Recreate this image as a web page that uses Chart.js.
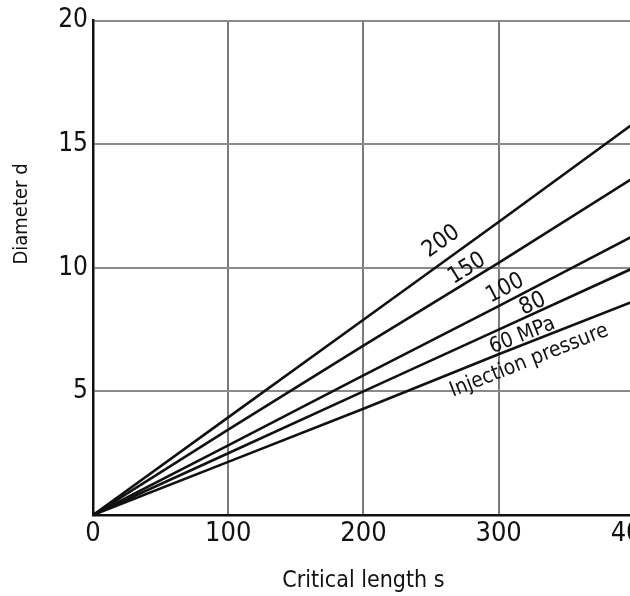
<!DOCTYPE html>
<html>
<head>
<meta charset="utf-8">
<script src="https://cdn.jsdelivr.net/npm/chart.js@4.4.1/dist/chart.umd.min.js"></script>
<style>
  html, body { margin: 0; padding: 0; background: #fff; overflow: hidden; width: 630px; height: 596px; }
  #wrap { position: absolute; left: 0; top: 0; width: 660px; height: 596px; }
</style>
</head>
<body>
<div id="wrap"><canvas id="c" width="660" height="596"></canvas></div>
<script>
// ---- data ----
const lengthS = [0, 100, 200, 300, 400];           // Critical length s
const d200 = [0, 3.95, 7.90, 11.85, 15.85];        // 200 MPa
const d150 = [0, 3.45, 6.85, 10.20, 13.65];        // 150 MPa
const d100 = [0, 2.82, 5.65, 8.45, 11.30];         // 100 MPa
const d80  = [0, 2.50, 5.00, 7.50, 10.00];         // 80 MPa
const d60  = [0, 2.15, 4.30, 6.50, 8.65];          // 60 MPa
const seriesNames = ['200', '150', '100', '80', '60 MPa'];
const xTicks = [0, 100, 200, 300, 400];
const yTicks = [5, 10, 15, 20];

const FONT = "'Liberation Sans Narrow', 'DejaVu Sans Condensed', 'Liberation Sans', sans-serif";

// label placement (x-value along the line, perpendicular offset in px; + = above)
const lineLabels = [
  { ds: 0, text: '200', x: 265, off: 17, size: 23 },
  { ds: 1, text: '150', x: 281, off: 11, size: 23 },
  { ds: 2, text: '100', x: 309, off: 12, size: 23 },
  { ds: 3, text: '80',  x: 328, off: 9,  size: 23 },
  { ds: 4, text: '60 MPa', x: 320, off: 9, size: 21 },
  { ds: 4, text: 'Injection pressure', x: 318, off: -17, size: 21 }
];

const seriesData = [d200, d150, d100, d80, d60];
const datasets = seriesData.map((arr, i) => ({
  label: seriesNames[i],
  data: lengthS.map((s, k) => ({ x: s, y: arr[k] })),
  borderColor: '#111',
  borderWidth: 2.6,
  pointRadius: 0,
  tension: 0,
  fill: false
}));

const labelPlugin = {
  id: 'lineLabels',
  afterDatasetsDraw(chart) {
    const { ctx, scales: { x, y } } = chart;
    ctx.save();
    ctx.fillStyle = '#111';
    ctx.textAlign = 'center';
    ctx.textBaseline = 'middle';
    lineLabels.forEach(l => {
      const arr = seriesData[l.ds];
      const px0 = x.getPixelForValue(lengthS[0]), py0 = y.getPixelForValue(arr[0]);
      const px1 = x.getPixelForValue(lengthS[4]), py1 = y.getPixelForValue(arr[4]);
      const ang = Math.atan2(py1 - py0, px1 - px0);
      const slope = (arr[4] - arr[0]) / (lengthS[4] - lengthS[0]);
      const px = x.getPixelForValue(l.x), py = y.getPixelForValue(arr[0] + slope * (l.x - lengthS[0]));
      const nx = Math.sin(ang), ny = -Math.cos(ang);
      const cx = px + nx * l.off, cy = py + ny * l.off;
      ctx.save();
      ctx.translate(cx, cy);
      ctx.rotate(ang);
      ctx.font = l.size + 'px ' + FONT;
      ctx.fillText(l.text, 0, 0);
      ctx.restore();
    });
    // y axis title
    ctx.save();
    ctx.translate(22, 214);
    ctx.rotate(-Math.PI / 2);
    ctx.font = '20px ' + FONT;
    ctx.fillText('Diameter d', 0, 0);
    ctx.restore();
    ctx.restore();
  }
};

new Chart(document.getElementById('c'), {
  type: 'line',
  data: { datasets },
  plugins: [labelPlugin],
  options: {
    responsive: false,
    animation: false,
    layout: { padding: { top: 17, right: 23, left: 0, bottom: 0 } },
    plugins: { legend: { display: false }, tooltip: { enabled: false } },
    scales: {
      x: {
        type: 'linear',
        min: 0, max: 400,
        afterBuildTicks: s => { s.ticks = xTicks.map(v => ({ value: v })); },
        afterFit: s => { s.height = 81; },
        grid: {
          color: c => c.tick && c.tick.value === 0 ? 'rgba(0,0,0,0)' : '#7a7a7a',
          lineWidth: 2,
          drawTicks: false
        },
        border: { color: '#111', width: 2.5 },
        ticks: { color: '#111', font: { family: FONT, size: 27 }, padding: 3, maxRotation: 0 },
        title: { display: true, text: 'Critical length s', color: '#111', font: { family: FONT, size: 23 }, padding: { top: 0, bottom: 1 } }
      },
      y: {
        type: 'linear',
        min: 0, max: 20,
        afterBuildTicks: s => { s.ticks = [0].concat(yTicks).map(v => ({ value: v })); },
        afterFit: s => { s.width = 93; },
        grid: {
          color: c => c.tick && c.tick.value === 0 ? 'rgba(0,0,0,0)' : '#8a8a8a',
          lineWidth: 2,
          drawTicks: false
        },
        border: { color: '#111', width: 2.5 },
        ticks: {
          color: '#111', font: { family: FONT, size: 26 }, padding: 5,
          callback: v => v === 0 ? '' : String(v)
        }
      }
    }
  }
});
</script>
</body>
</html>
